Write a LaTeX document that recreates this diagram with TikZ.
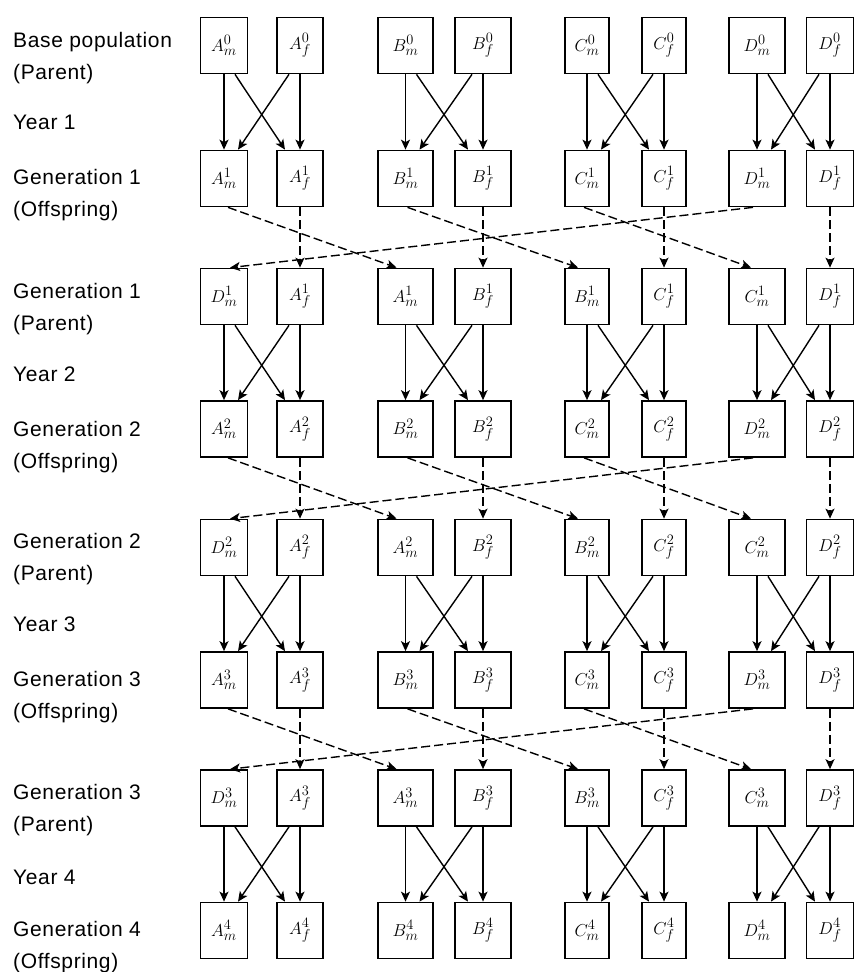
\documentclass[tikz,border=0pt]{standalone}
\usepackage{fontspec}
\setmainfont{Liberation Sans}[LetterSpace=3]
\usetikzlibrary{arrows.meta}
\begin{document}
\begin{tikzpicture}[x=1pt,y=-1pt,
  box/.style={draw,line width=1.7pt,minimum height=56pt,inner sep=0pt,font=\fontsize{19}{19}\selectfont},
  sarrow/.style={line width=1.4pt,-{Stealth[length=10pt,width=9pt,inset=2.5pt]}},
  darrow/.style={sarrow,dash pattern=on 9pt off 4pt},
  lab/.style={anchor=west,inner sep=0pt,text height=15pt,text depth=0pt,font=\fontsize{21}{21}\selectfont}]
\useasboundingbox (0,0) rectangle (854,972);
% labels
\node[lab] (l1) at (13,39.5) {Base population};
\node[lab] (l2) at (13,72) {(Parent)};
\node[lab] (l3) at (13,122) {Year 1};
\node[lab] (l4) at (13,177) {Generation 1};
\node[lab] (l5) at (13,209) {(Offspring)};
\node[lab] (l6) at (13,291) {Generation 1};
\node[lab] (l7) at (13,323) {(Parent)};
\node[lab] (l8) at (13,374) {Year 2};
\node[lab] (l9) at (13,429) {Generation 2};
\node[lab] (l10) at (13,461) {(Offspring)};
\node[lab] (l11) at (13,541) {Generation 2};
\node[lab] (l12) at (13,573) {(Parent)};
\node[lab] (l13) at (13,624) {Year 3};
\node[lab] (l14) at (13,679) {Generation 3};
\node[lab] (l15) at (13,711) {(Offspring)};
\node[lab] (l16) at (13,792) {Generation 3};
\node[lab] (l17) at (13,824) {(Parent)};
\node[lab] (l18) at (13,877) {Year 4};
\node[lab] (l19) at (13,929) {Generation 4};
\node[lab] (l20) at (13,961) {(Offspring)};
% boxes: base and offspring rows
\foreach \r/\y/\g in {0/45.5/0,1/178.5/1,3/429/2,5/680/3,7/930.5/4}{
  \foreach \c/\Lt/\xm/\xf/\wm/\wf in {1/A/224/300/47/46,2/B/405.5/483/55/56,3/C/587/664/44/44,4/D/757/830/56/47}{
    \node[box,minimum width=\wm pt] (N\r m\c) at (\xm,\y) {$\Lt^{\g}_{m}$};
    \node[box,minimum width=\wf pt] (N\r f\c) at (\xf,\y) {$\Lt^{\g}_{f}$};
  }
}
% boxes: parent rows
\foreach \r/\y/\g in {2/296.5/1,4/547.5/2,6/798/3}{
  \foreach \c/\Lm/\Lf/\xm/\xf/\wm/\wf in {1/D/A/224/300/47/46,2/A/B/405.5/483/55/56,3/B/C/587/664/44/44,4/C/D/757/830/56/47}{
    \node[box,minimum width=\wm pt] (N\r m\c) at (\xm,\y) {$\Lm^{\g}_{m}$};
    \node[box,minimum width=\wf pt] (N\r f\c) at (\xf,\y) {$\Lf^{\g}_{f}$};
  }
}
% solid mating arrows
\foreach \p/\o in {0/1,2/3,4/5,6/7}{
  \foreach \c in {1,2,3,4}{
    \draw[sarrow] (N\p m\c.south) -- (N\o m\c.north);
    \draw[sarrow] (N\p f\c.south) -- (N\o f\c.north);
    \draw[sarrow] ([xshift=11pt]N\p m\c.south) -- ([xshift=-15pt]N\o f\c.north);
    \draw[sarrow] ([xshift=-11pt]N\p f\c.south) -- ([xshift=14pt]N\o m\c.north);
  }
}
% dashed rotation arrows
\foreach \o/\p in {1/2,3/4,5/6}{
  \foreach \c in {1,2,3,4}{
    \draw[darrow] (N\o f\c.south) -- (N\p f\c.north);
  }
  \draw[darrow] ([xshift=4pt]N\o m1.south) -- ([xshift=-9pt]N\p m2.north);
  \draw[darrow] ([xshift=2pt]N\o m2.south) -- ([xshift=-9pt]N\p m3.north);
  \draw[darrow] ([xshift=-3pt]N\o m3.south) -- ([xshift=-6pt]N\p m4.north);
  \draw[darrow] ([xshift=-4pt]N\o m4.south) -- ([xshift=6pt]N\p m1.north);
}
\end{tikzpicture}
\end{document}
